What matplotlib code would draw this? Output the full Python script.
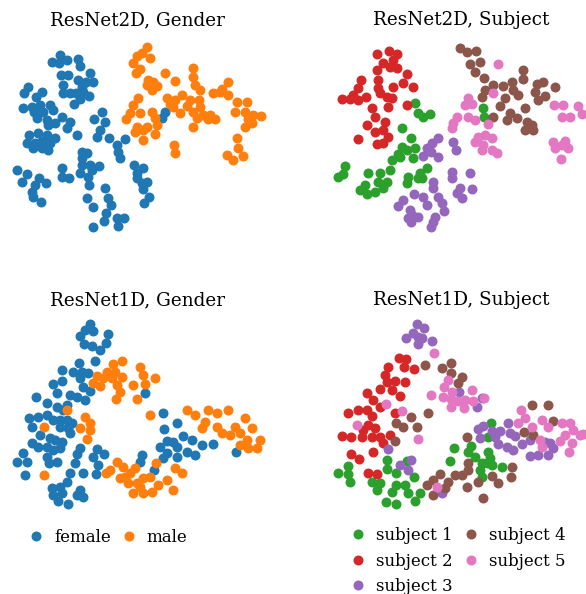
import numpy as np
import matplotlib
matplotlib.use("Agg")
import matplotlib.pyplot as plt

# t-SNE embeddings (arbitrary units, y grows downward)
r2d_female = [(180,75),(155,97),(178,100),(200,90),(233,88),(240,108),(182,135),(205,135),(270,128),(235,150),
    (258,155),(280,157),(190,165),(190,188),(210,190),(228,190),(248,185),(268,197),(240,208),(222,222),(245,170),
    (83,172),(72,188),(125,186),(108,200),(70,235),(95,230),(120,225),(150,225),(103,245),(130,245),(160,240),
    (185,262),(110,265),(140,270),(165,280),(210,275),(145,285),(200,295),(88,315),(115,310),(140,315),(165,325),
    (82,338),(105,340),(125,332),(150,340),(100,355),(125,355),(145,360),(232,315),
    (307,245),(282,268),(315,275),(300,300),(290,320),(327,325),(375,328),(350,345),(355,365),(360,385),
    (245,365),(262,368),(245,385),(245,405),(270,405),(298,407),(275,420),(240,430),(265,440),(268,465),
    (185,415),(185,440),(207,445),
    (50,420),(80,433),(65,455),(118,445),(138,458),(105,465),(95,485),(100,500),(122,515),
    (403,405),(430,415),(410,430),(410,445),(440,455),(425,460),(430,478),(448,500),(433,518),
    (315,475),(325,505),(333,525),(260,505),(280,530),(318,550),(313,573),(350,565),(373,565),(355,588),(280,592),
    (495,245),(487,265)]
r2d_male = [(440,50),(425,70),(410,78),(450,85),(400,100),(420,118),(408,128),
    (495,128),(580,115),(578,140),(525,152),(445,150),(460,155),(470,168),(455,180),(440,165),(585,165),(600,180),
    (685,155),(665,178),(640,190),(685,195),(660,185),
    (415,205),(500,205),(525,210),(545,195),(570,210),(598,210),(520,230),(540,250),(560,228),(580,245),(400,225),
    (390,248),(420,248),(455,245),(465,265),(470,285),(378,268),(410,290),(430,300),(405,305),(465,313),(428,330),
    (590,265),(580,292),(610,255),(630,255),(645,268),(740,215),(710,215),(705,245),(735,245),(760,255),(782,258),
    (755,278),(735,290),(710,325),(715,355),(680,375),(700,390),(730,378),(510,222),(600,232),(625,268),(440,290),
    (745,268),(522,345),(525,370)]

r2d_s1 = [(270,203),(280,233),(295,245),(315,238),(232,278),(258,310),(230,335),(245,345),(270,340),(218,358),
    (200,375),(225,365),(265,368),(195,405),(165,415),(130,415),(60,392),(40,425),(55,418),(160,440),(185,440),
    (120,450),(105,465),(125,478),(150,470),(175,460),(248,425),(245,445),(278,430),(285,415),(305,398),(290,430),
    (475,218),(478,245)]
r2d_s2 = [(155,57),(193,48),(215,58),(205,75),(175,85),(195,95),(215,100),(155,105),(108,135),(160,135),(245,118),
    (235,145),(265,155),(205,155),(100,160),(160,160),(85,180),(50,193),(75,193),(98,195),(123,187),(165,175),
    (185,185),(200,190),(190,215),(140,220),(245,210),(150,245),(180,260),(125,270),(150,290),(175,285),(190,305),
    (100,312),(155,328),(175,325)]
r2d_s3 = [(340,308),(320,325),(305,340),(318,350),(295,362),(338,365),(383,320),(393,345),(380,410),(380,430),
    (435,415),(442,462),(405,460),(410,490),(395,475),(325,440),(325,460),(340,487),(350,505),(358,527),(330,545),
    (318,575),(325,560),(268,478),(295,485),(305,510),(235,495),(220,512),(255,525),(262,540),(280,545),(248,550),
    (258,562)]
r2d_s4 = [(405,38),(425,50),(452,47),(435,87),(465,82),(450,110),(478,130),(505,150),(480,165),(470,187),(535,152),
    (560,140),(593,105),(593,133),(565,165),(580,180),(540,190),(525,213),(505,245),(555,235),(545,255),(575,250),
    (600,218),(605,260),(620,270),(625,285),(600,285),(635,148),(655,140),(690,155),(660,182),(640,195),(630,170)]
r2d_s5 = [(518,86),(430,190),(420,210),(440,208),(505,175),(395,245),(430,245),(450,255),(385,265),(380,280),
    (490,268),(460,305),(450,320),(480,300),(500,310),(475,330),(500,345),(515,355),(470,345),(688,210),(715,210),
    (760,212),(770,238),(710,245),(735,245),(685,320),(710,330),(720,318),(730,340),(690,340),(708,372)]

r1d_female = [(270,42),(255,60),(280,62),(240,78),(325,72),(252,103),(275,108),(300,120),(318,100),(285,152),
    (237,160),(185,180),(220,185),(245,185),(265,190),(240,205),(160,222),(185,213),(250,232),(270,242),(170,248),
    (210,255),(230,262),(255,270),(108,260),(140,278),(170,290),(190,300),(200,285),(88,325),(115,320),(140,315),
    (160,330),(180,330),(200,330),(215,340),(95,350),(180,350),(205,355),(210,370),(120,375),(150,385),(165,390),
    (185,395),(95,400),(115,410),(140,410),(160,420),(180,415),(70,430),(50,455),(80,455),(140,440),(148,460),
    (172,455),(240,415),(230,432),(225,460),(290,418),(280,440),(312,433),(295,465),(250,490),(288,492),(75,495),
    (210,490),(200,515),(180,530),(155,535),(160,555),(185,550),(175,572),(205,582),(230,555),(250,560),(240,540),
    (435,248),(488,310),(530,340),(493,357),(548,378),(575,390),(500,392),(520,395),(480,410),(500,430),(490,445),
    (530,410),(560,425),(585,435),(605,405),(640,402),(708,425),(425,435),(420,455),(462,480),(530,440)]
r1d_male = [(365,152),(340,162),(420,172),(320,185),(345,185),(290,198),(310,205),(335,205),(365,200),(430,195),
    (465,203),(280,218),(300,228),(350,225),(435,222),(398,225),(360,245),(348,268),(410,268),(200,300),(255,322),
    (270,340),(240,355),(270,360),(260,388),(132,352),(450,315),(560,300),(585,315),(625,300),(650,308),(685,300),
    (615,335),(605,355),(650,350),(665,370),(690,375),(705,350),(735,325),(720,370),(755,355),(740,390),(720,405),
    (745,415),(770,415),(780,390),(350,455),(330,480),(318,490),(370,470),(390,490),(405,475),(375,500),(360,505),
    (383,520),(410,520),(430,505),(450,500),(420,530),(400,548),(430,548),(455,545),(475,525),(500,510),(518,540),
    (467,458),(525,475),(545,490),(133,495)]

r1d_s1 = [(70,468),(40,488),(70,492),(75,515),(185,450),(185,478),(213,490),(245,452),(268,502),(240,525),(213,525),
    (200,545),(165,518),(140,515),(155,540),(250,548),(285,550),(270,572),(183,575),(212,583),(388,413),(375,453),
    (438,408),(430,425),(450,442),(498,340),(490,380),(488,425),(495,445),(485,460),(470,460),(465,480),(500,465),
    (530,470),(470,500)]
r1d_s2 = [(222,143),(242,148),(238,170),(190,170),(268,178),(180,195),(185,215),(210,212),(165,238),(200,240),
    (240,215),(225,258),(125,250),(145,270),(165,290),(100,300),(125,300),(70,310),(140,318),(130,345),(115,360),
    (150,355),(50,378),(78,382),(110,380),(140,380),(165,382),(175,398),(195,375),(210,308),(145,425),(78,432),
    (103,448),(130,488),(155,492)]
r1d_s3 = [(275,42),(298,55),(265,68),(243,83),(278,80),(290,85),(278,102),(322,93),(403,245),(455,290),(190,417),
    (258,450),(225,465),(248,480),(350,550),(470,265),(460,358),(475,348),(465,385),(500,362),(510,382),(525,362),
    (550,338),(555,370),(570,378),(520,402),(545,410),(565,420),(590,402),(615,390),(615,438),(640,435),(660,395),
    (675,400),(685,415),(670,435)]
r1d_s4 = [(300,165),(350,175),(378,160),(378,190),(412,200),(398,218),(258,322),(212,340),(235,350),(275,352),
    (310,308),(210,393),(425,380),(430,458),(428,480),(345,492),(325,510),(305,525),(325,555),(360,535),(370,515),
    (390,495),(410,495),(425,530),(458,515),(500,498),(520,518),(560,472),(558,500),(475,563),(620,285),(668,285),
    (685,332),(598,365),(625,375)]
r1d_s5 = [(327,130),(368,210),(358,232),(382,245),(440,240),(355,260),(378,268),(400,272),(420,270),(445,272),
    (478,265),(418,295),(378,292),(318,255),(183,283),(232,303),(95,345),(278,388),(588,300),(600,325),(620,352),
    (580,340),(650,330),(668,350),(712,338),(735,338),(745,360),(720,375),(705,392),(740,400),(765,375),(775,372),
    (733,425),(650,410),(645,390),(335,532)]

gender_labels = ["female", "male"]
subject_labels = ["subject 1", "subject 2", "subject 3", "subject 4", "subject 5"]
gender_colors = ["tab:blue", "tab:orange"]
subject_colors = ["tab:green", "tab:red", "tab:purple", "tab:brown", "tab:pink"]

plt.rcParams["font.family"] = "serif"
W, H = 586, 594
fig = plt.figure(figsize=(W / 100, H / 100), dpi=100)


def panel(box, origin, title, groups, labels, colors):
    # box = axes edges in figure pixels, origin = where embedding unit 0 sits (3 units per pixel)
    x0, y0, x1, y1 = box
    cx, cy = origin
    ax = fig.add_axes([x0 / W, 1 - y1 / H, (x1 - x0) / W, (y1 - y0) / H])
    for pts, lab, col in zip(groups, labels, colors):
        pts = np.array(pts)
        ax.scatter(pts[:, 0], pts[:, 1], s=38, color=col, label=lab)
    ax.set_xlim((x0 - cx) * 3, (x1 - cx) * 3)
    ax.set_ylim((y1 - cy) * 3, (y0 - cy) * 3)
    ax.set_title(title, fontsize=13.2)
    ax.axis("off")
    return ax


panel((5, 33.3, 270, 240), (0, 30), "ResNet2D, Gender", [r2d_female, r2d_male], gender_labels, gender_colors)
panel((331, 33.3, 591, 240), (325, 35), "ResNet2D, Subject",
      [r2d_s1, r2d_s2, r2d_s3, r2d_s4, r2d_s5], subject_labels, subject_colors)
ax3 = panel((5, 313.3, 270, 510), (0, 310), "ResNet1D, Gender", [r1d_female, r1d_male], gender_labels, gender_colors)
ax4 = panel((331, 313.3, 591, 510), (325, 310), "ResNet1D, Subject",
            [r1d_s1, r1d_s2, r1d_s3, r1d_s4, r1d_s5], subject_labels, subject_colors)

leg_kw = dict(loc="center left", bbox_transform=fig.transFigure, frameon=False, fontsize=12, ncol=2,
              handlelength=0.8, handletextpad=0.68, columnspacing=0.68, borderaxespad=0,
              scatterpoints=1, scatteryoffsets=[0.5])
ax3.legend(bbox_to_anchor=(22.7 / W, 1 - 537 / H), **leg_kw)
ax4.legend(bbox_to_anchor=(344.7 / W, 1 - 561 / H), **leg_kw)

fig.savefig("out.png", dpi=100)
